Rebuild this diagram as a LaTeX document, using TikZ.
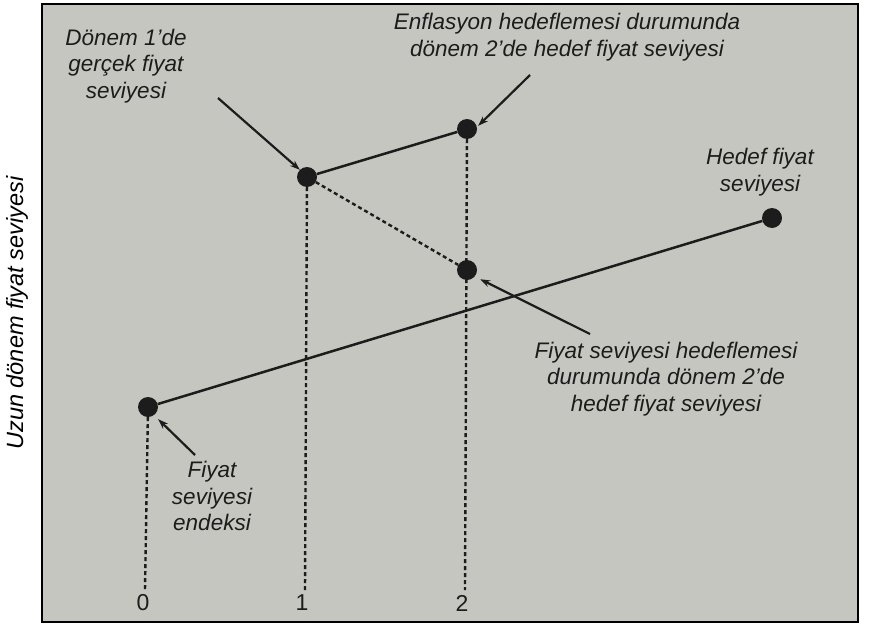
\documentclass[tikz,border=0pt]{standalone}
\usepackage{fontspec}
\setmainfont{Liberation Sans}
\usepackage{tikz}
\usetikzlibrary{positioning,arrows.meta}
\definecolor{panel}{RGB}{198,198,192}
\definecolor{ink}{RGB}{28,28,28}

\begin{document}
\begin{tikzpicture}[
  x=1pt, y=-1pt,
  dot/.style={circle, fill=ink, inner sep=0pt, minimum size=20pt},
  lbl/.style={font=\itshape\fontsize{22.5}{26.5}\selectfont, align=center, text=ink, inner sep=0pt},
  tick/.style={font=\fontsize{23}{26}\selectfont, text=ink, inner sep=0pt},
  arr/.style={-{Stealth[length=10pt,width=7pt]}, line width=2.2pt, draw=ink},
  link/.style={line width=2.5pt, draw=ink},
  guide/.style={line width=2.4pt, draw=ink, dash pattern=on 4pt off 3pt}
]
\useasboundingbox (0,0) rectangle (869,626);
\draw[fill=panel, line width=2pt] (42,4) rectangle (858,622);

% points
\node[dot] (base) at (148,407) {};
\node[dot] (real) at (307,177) {};
\node[dot] (infl) at (467,129) {};
\node[dot] (plev) at (467,270) {};
\node[dot] (goal) at (772,218) {};

% period ticks
\node[tick] (t0) at (143,603) {0};
\node[tick] (t1) at (302,603) {1};
\node[tick] (t2) at (462,603) {2};
\coordinate (b0) at (145,590);
\coordinate (b1) at (305,590);
\coordinate (b2) at (465,590);

% labels
\node[lbl] (realtxt) at (126,66) {Dönem 1'de\\gerçek fiyat\\seviyesi};
\node[lbl] (infltxt) at (567,37) {Enflasyon hedeflemesi durumunda\\dönem 2'de hedef fiyat seviyesi};
\node[lbl] (goaltxt) at (760,172) {Hedef fiyat\\seviyesi};
\node[lbl] (plevtxt) at (666,379) {Fiyat seviyesi hedeflemesi\\durumunda dönem 2'de\\hedef fiyat seviyesi};
\node[lbl] (basetxt) at (212,496) {Fiyat\\seviyesi\\endeksi};
\node[lbl, font=\itshape\fontsize{23.5}{28}\selectfont, rotate=90, text=black] (ytxt) at (17,313) {Uzun dönem fiyat seviyesi};

% guides
\draw[guide] (base) -- (b0);
\draw[guide] (real) -- (b1);
\draw[guide] (infl) -- (b2);
\draw[guide] (real) -- (plev);

% paths
\draw[link] (base) -- (goal);
\draw[link] (real) -- (infl);

% pointers
\coordinate (a1) at (218,98);
\coordinate (a2) at (530,75);
\coordinate (a3) at (590,334);
\coordinate (a4) at (195,455);
\draw[arr] (a1) -- (real.north west);
\draw[arr] (a2) -- ([xshift=4pt,yshift=-4pt]infl.north east);
\draw[arr] (a3) -- ([xshift=6pt,yshift=-2pt]plev.south east);
\draw[arr] (a4) -- ([xshift=3pt,yshift=-5pt]base.south east);
\end{tikzpicture}
\end{document}
